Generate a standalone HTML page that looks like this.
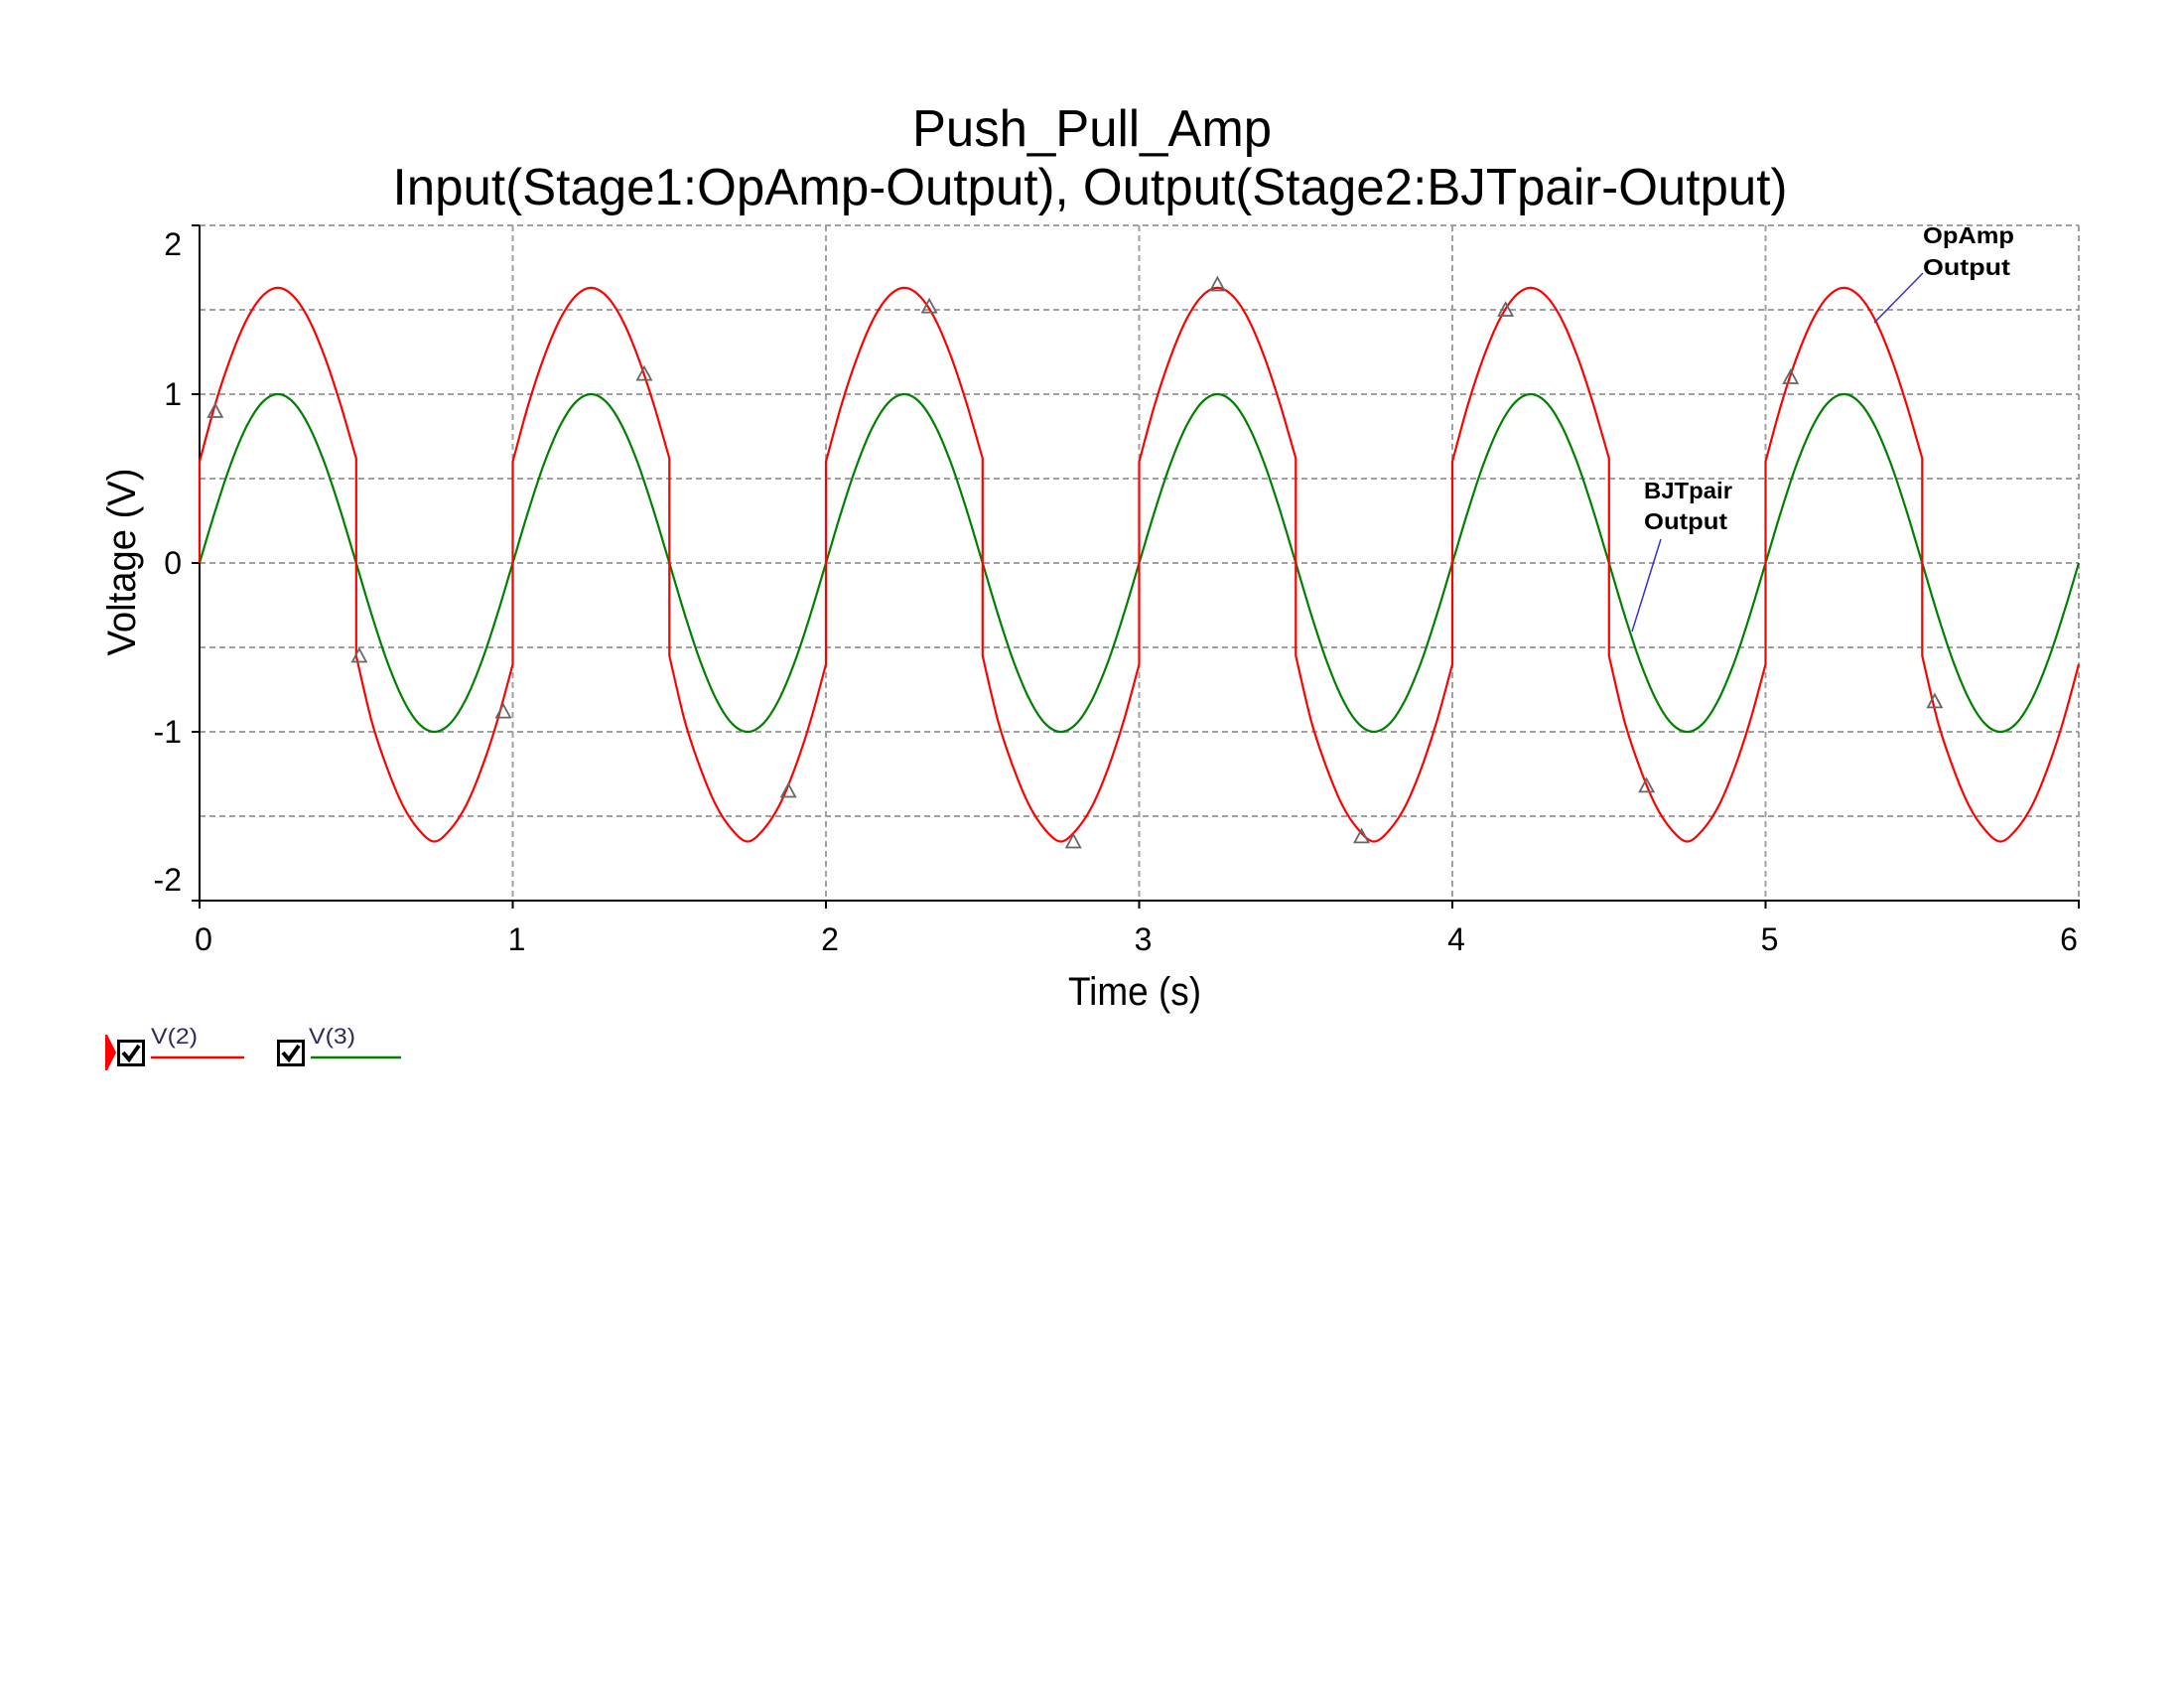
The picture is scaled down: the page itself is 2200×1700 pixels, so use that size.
<!DOCTYPE html>
<html>
<head>
<meta charset="utf-8">
<style>
  html,body{margin:0;padding:0;background:#fff;}
  svg{display:block;}
  text{font-family:"Liberation Sans",sans-serif;}
</style>
</head>
<body>
<svg id="chart" width="2200" height="1700" viewBox="0 0 2200 1700" xmlns="http://www.w3.org/2000/svg">
  <rect x="0" y="0" width="2200" height="1700" fill="#fff"/>
  <text x="1100" y="147" font-size="52" text-anchor="middle" textLength="362" lengthAdjust="spacingAndGlyphs" fill="#000">Push_Pull_Amp</text>
  <text x="1098" y="206" font-size="52" text-anchor="middle" textLength="1405" lengthAdjust="spacingAndGlyphs" fill="#000">Input(Stage1:OpAmp-Output), Output(Stage2:BJTpair-Output)</text>
  <g id="grid"></g>
  <g id="axes"></g>
  <g id="series"></g>
  <g id="markers"></g>
  <text x="1143" y="1012" font-size="40" text-anchor="middle" textLength="134" lengthAdjust="spacingAndGlyphs" fill="#000">Time (s)</text>
  <text transform="translate(136,566) rotate(-90)" font-size="40" text-anchor="middle" textLength="189" lengthAdjust="spacingAndGlyphs" fill="#000">Voltage (V)</text>

  <g>
    <text x="1937" y="245" font-size="23" font-weight="bold" textLength="92" lengthAdjust="spacingAndGlyphs" fill="#000">OpAmp</text>
    <text x="1937" y="277" font-size="23" font-weight="bold" textLength="88" lengthAdjust="spacingAndGlyphs" fill="#000">Output</text>
    <line x1="1937" y1="275" x2="1888" y2="325" stroke="#3333cc" stroke-width="1.5"/>
  </g>
  <g>
    <text x="1656" y="502" font-size="23" font-weight="bold" textLength="89" lengthAdjust="spacingAndGlyphs" fill="#000">BJTpair</text>
    <text x="1656" y="533" font-size="23" font-weight="bold" textLength="84" lengthAdjust="spacingAndGlyphs" fill="#000">Output</text>
    <line x1="1673" y1="543" x2="1644" y2="636" stroke="#3333cc" stroke-width="1.5"/>
  </g>

  <g>
    <polygon points="106,1042 108,1042 117,1060 108,1078 106,1078" fill="#ff0000"/>
    <g>
      <rect x="119.5" y="1048.5" width="25" height="24" fill="#fff" stroke="#000" stroke-width="3"/>
      <path d="M124 1060 L130 1067 L140 1053" fill="none" stroke="#000" stroke-width="4"/>
      <text x="152" y="1051" font-size="22" textLength="47" lengthAdjust="spacingAndGlyphs" fill="#302858">V(2)</text>
      <line x1="152" y1="1065" x2="246" y2="1065" stroke="#ff0000" stroke-width="2.5"/>
    </g>
    <g>
      <rect x="280.5" y="1048.5" width="25" height="24" fill="#fff" stroke="#000" stroke-width="3"/>
      <path d="M285 1060 L291 1067 L301 1053" fill="none" stroke="#000" stroke-width="4"/>
      <text x="311" y="1051" font-size="22" textLength="47" lengthAdjust="spacingAndGlyphs" fill="#302858">V(3)</text>
      <line x1="313" y1="1065" x2="404" y2="1065" stroke="#008000" stroke-width="2.5"/>
    </g>
  </g>
</svg>
<script>
// ---- data ----
const xTicks = [0, 1, 2, 3, 4, 5, 6];
const xTickLabels = ["0", "1", "2", "3", "4", "5", "6"];
const yTicks = [-2, -1, 0, 1, 2];
const yTickLabels = ["-2", "-1", "0", "1", "2"];
const yGridValues = [-1.5, -1, -0.5, 0, 0.5, 1, 1.5, 2];
// V(3): BJT pair output, sampled every 0.05 s
const v3Time = Array.from({length: 121}, (_, i) => +(i * 0.05).toFixed(2));
const v3Values = [
  0,.309,.588,.809,.951,1,.951,.809,.588,.309,0,-.309,-.588,-.809,-.951,-1,-.951,-.809,-.588,-.309,
  0,.309,.588,.809,.951,1,.951,.809,.588,.309,0,-.309,-.588,-.809,-.951,-1,-.951,-.809,-.588,-.309,
  0,.309,.588,.809,.951,1,.951,.809,.588,.309,0,-.309,-.588,-.809,-.951,-1,-.951,-.809,-.588,-.309,
  0,.309,.588,.809,.951,1,.951,.809,.588,.309,0,-.309,-.588,-.809,-.951,-1,-.951,-.809,-.588,-.309,
  0,.309,.588,.809,.951,1,.951,.809,.588,.309,0,-.309,-.588,-.809,-.951,-1,-.951,-.809,-.588,-.309,
  0,.309,.588,.809,.951,1,.951,.809,.588,.309,0,-.309,-.588,-.809,-.951,-1,-.951,-.809,-.588,-.309,
  0
];
// V(2): op-amp output (with crossover jumps; repeated times mark vertical jumps)
const v2Time = [
  0,0,.05,.1,.15,.2,.25,.3,.35,.4,.45,.5,.5,.5,.55,.6,.65,.7,.75,.8,.85,.9,.95,
  1,1,1,1.05,1.1,1.15,1.2,1.25,1.3,1.35,1.4,1.45,1.5,1.5,1.5,1.55,1.6,1.65,1.7,1.75,1.8,1.85,1.9,1.95,
  2,2,2,2.05,2.1,2.15,2.2,2.25,2.3,2.35,2.4,2.45,2.5,2.5,2.5,2.55,2.6,2.65,2.7,2.75,2.8,2.85,2.9,2.95,
  3,3,3,3.05,3.1,3.15,3.2,3.25,3.3,3.35,3.4,3.45,3.5,3.5,3.5,3.55,3.6,3.65,3.7,3.75,3.8,3.85,3.9,3.95,
  4,4,4,4.05,4.1,4.15,4.2,4.25,4.3,4.35,4.4,4.45,4.5,4.5,4.5,4.55,4.6,4.65,4.7,4.75,4.8,4.85,4.9,4.95,
  5,5,5,5.05,5.1,5.15,5.2,5.25,5.3,5.35,5.4,5.45,5.5,5.5,5.5,5.55,5.6,5.65,5.7,5.75,5.8,5.85,5.9,5.95,
  6
];
const v2Values = [
  0,.6,.94,1.22,1.44,1.58,1.63,1.58,1.44,1.22,.94,.62,0,-.55,-.94,-1.22,-1.44,-1.58,-1.65,-1.58,-1.44,-1.22,-.94,
  -.6,0,.6,.94,1.22,1.44,1.58,1.63,1.58,1.44,1.22,.94,.62,0,-.55,-.94,-1.22,-1.44,-1.58,-1.65,-1.58,-1.44,-1.22,-.94,
  -.6,0,.6,.94,1.22,1.44,1.58,1.63,1.58,1.44,1.22,.94,.62,0,-.55,-.94,-1.22,-1.44,-1.58,-1.65,-1.58,-1.44,-1.22,-.94,
  -.6,0,.6,.94,1.22,1.44,1.58,1.63,1.58,1.44,1.22,.94,.62,0,-.55,-.94,-1.22,-1.44,-1.58,-1.65,-1.58,-1.44,-1.22,-.94,
  -.6,0,.6,.94,1.22,1.44,1.58,1.63,1.58,1.44,1.22,.94,.62,0,-.55,-.94,-1.22,-1.44,-1.58,-1.65,-1.58,-1.44,-1.22,-.94,
  -.6,0,.6,.94,1.22,1.44,1.58,1.63,1.58,1.44,1.22,.94,.62,0,-.55,-.94,-1.22,-1.44,-1.58,-1.65,-1.58,-1.44,-1.22,-.94,
  -.6
];
const markerTime = [0.05, 0.51, 0.97, 1.42, 1.88, 2.33, 2.79, 3.25, 3.71, 4.17, 4.62, 5.08, 5.54];
const markerValues = [0.9, -0.55, -0.88, 1.12, -1.35, 1.52, -1.65, 1.65, -1.62, 1.5, -1.32, 1.1, -0.82];

// ---- scales ----
const X0 = 201, X1 = 2094, Y0 = 907, Y1 = 227;
const xMin = 0, xMax = 6, yMin = -2, yMax = 2;
function sx(t){ return X0 + (t - xMin) / (xMax - xMin) * (X1 - X0); }
function sy(v){ return Y0 - (v - yMin) / (yMax - yMin) * (Y0 - Y1); }
const NS = "http://www.w3.org/2000/svg";
function mk(tag, attrs, parent){
  const el = document.createElementNS(NS, tag);
  for (const k in attrs) el.setAttribute(k, attrs[k]);
  parent.appendChild(el);
  return el;
}
const grid = document.getElementById('grid');
const axes = document.getElementById('axes');
const series = document.getElementById('series');
const markers = document.getElementById('markers');

// horizontal grid
yGridValues.forEach(v => {
  const l = mk('line', {x1: X0, x2: X1, y1: sy(v), y2: sy(v), stroke: '#a0a0a0', 'stroke-width': 2, 'stroke-dasharray': '6 4'}, grid);
  
  
});
// vertical grid
xTicks.forEach(t => {
  if (t === xMin) return;
  const l = mk('line', {x1: sx(t), x2: sx(t), y1: Y1, y2: Y0, stroke: '#a0a0a0', 'stroke-width': 2, 'stroke-dasharray': '6 4'}, grid);
  
  
});
// axis lines
const ya = mk('line', {x1: X0, x2: X0, y1: Y1, y2: Y0 + 1, stroke: '#000', 'stroke-width': 2}, axes);


const xa = mk('line', {x1: X0 - 1, x2: X1 + 1, y1: Y0, y2: Y0, stroke: '#000', 'stroke-width': 2}, axes);



// y ticks
yTicks.forEach((v, i) => {
  const tk = mk('line', {x1: X0 - 8, x2: X0, y1: sy(v), y2: sy(v), stroke: '#000', 'stroke-width': 2}, axes);
  
  
  let cy = sy(v);
  if (v === yMax) cy += 19;
  if (v === yMin) cy -= 21;
  const tx = mk('text', {x: 183, y: cy + 11, 'font-size': 32, 'text-anchor': 'end', fill: '#000'}, axes);
  tx.textContent = yTickLabels[i];
  
  
});
// x ticks
xTicks.forEach((t, i) => {
  const tk = mk('line', {x1: sx(t), x2: sx(t), y1: Y0, y2: Y0 + 8, stroke: '#000', 'stroke-width': 2}, axes);
  
  
  let cx = sx(t) + 4;
  if (t === xMax) cx -= 14;
  const tx = mk('text', {x: cx, y: 957, 'font-size': 32, 'text-anchor': 'middle', fill: '#000'}, axes);
  tx.textContent = xTickLabels[i];
  
  
});

// path builder: smooth (catmull-rom) within runs, straight jumps where time repeats
function buildPath(times, vals){
  const runs = [];
  let cur = [];
  for (let i = 0; i < times.length; i++){
    const p = [sx(times[i]), sy(vals[i])];
    if (cur.length && times[i] === times[i - 1]) { runs.push(cur); cur = []; }
    cur.push(p);
  }
  runs.push(cur);
  let d = '';
  runs.forEach((r, ri) => {
    d += (ri === 0 ? 'M' : 'L') + r[0][0].toFixed(1) + ' ' + r[0][1].toFixed(1);
    for (let i = 0; i < r.length - 1; i++){
      const p0 = r[i - 1] || r[i], p1 = r[i], p2 = r[i + 1], p3 = r[i + 2] || r[i + 1];
      const c1x = p1[0] + (p2[0] - p0[0]) / 6, c1y = p1[1] + (p2[1] - p0[1]) / 6;
      const c2x = p2[0] - (p3[0] - p1[0]) / 6, c2y = p2[1] - (p3[1] - p1[1]) / 6;
      d += 'C' + c1x.toFixed(1) + ' ' + c1y.toFixed(1) + ' ' + c2x.toFixed(1) + ' ' + c2y.toFixed(1) + ' ' + p2[0].toFixed(1) + ' ' + p2[1].toFixed(1);
    }
  });
  return d;
}
const g3 = mk('path', {d: buildPath(v3Time, v3Values), fill: 'none', stroke: '#008000', 'stroke-width': 2.2}, series);


const g2 = mk('path', {d: buildPath(v2Time, v2Values), fill: 'none', stroke: '#ff0000', 'stroke-width': 2.2}, series);



// triangle markers
markerTime.forEach((t, i) => {
  const x = sx(t), y = sy(markerValues[i]);
  const tri = mk('polygon', {points: (x - 7) + ',' + (y + 6) + ' ' + x + ',' + (y - 7) + ' ' + (x + 7) + ',' + (y + 6), fill: 'none', stroke: '#666', 'stroke-width': 1.8}, markers);
  
  
});
</script>
</body>
</html>
